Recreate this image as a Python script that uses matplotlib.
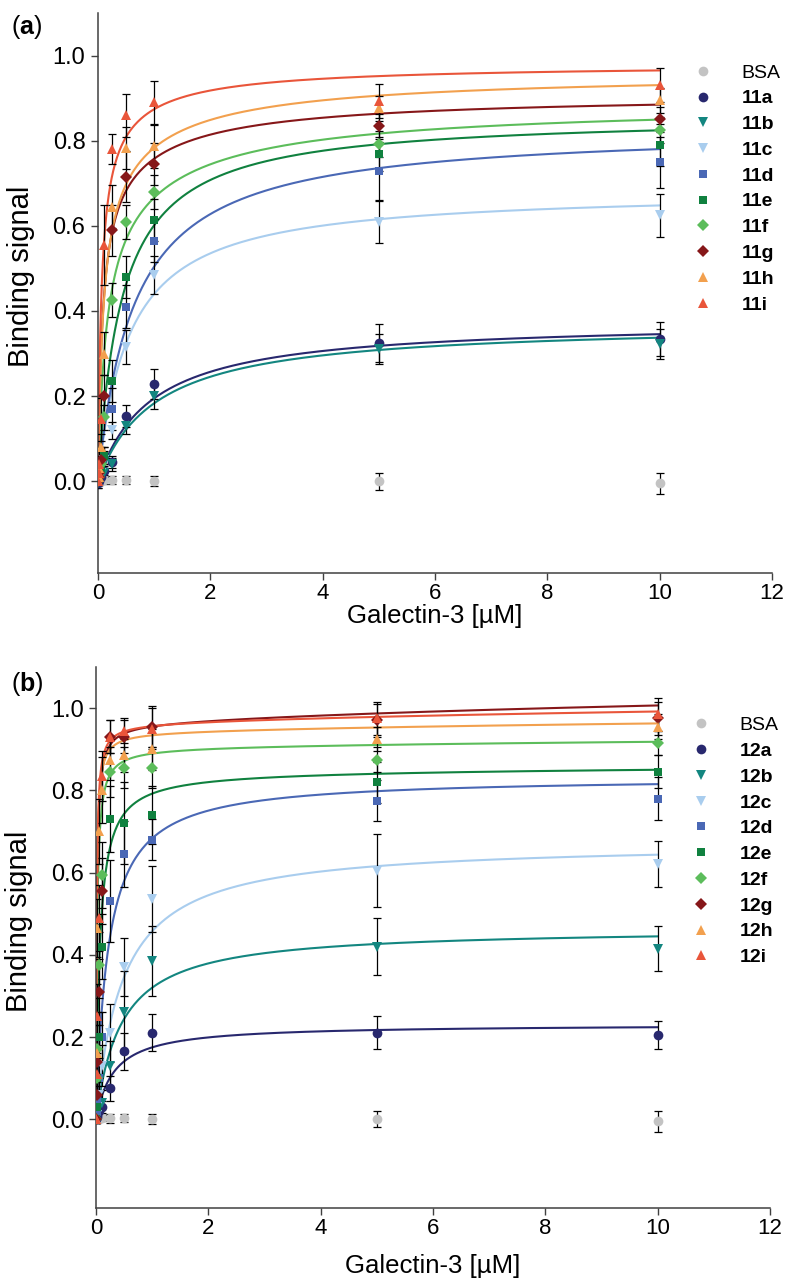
import numpy as np
import matplotlib
matplotlib.use('Agg')
import matplotlib.pyplot as plt
from matplotlib.lines import Line2D
from matplotlib import font_manager

plt.rcParams['font.family'] = ['Liberation Sans', 'DejaVu Sans']
plt.rcParams['mathtext.fontset'] = 'custom'
plt.rcParams['mathtext.rm'] = 'Liberation Sans'
plt.rcParams['mathtext.bf'] = 'Liberation Sans:bold'

installed = set(f.name for f in font_manager.fontManager.ttflist)
narrow = 'Liberation Sans Narrow' if 'Liberation Sans Narrow' in installed else 'Liberation Sans'

# galectin-3 concentrations [uM]
conc = [0, 0.01, 0.025, 0.05, 0.1, 0.25, 0.5, 1, 5, 10]

names_a = ['BSA', '11a', '11b', '11c', '11d', '11e', '11f', '11g', '11h', '11i']
names_b = ['BSA', '12a', '12b', '12c', '12d', '12e', '12f', '12g', '12h', '12i']

plot_color = ['#c3c3c3', '#28286e', '#138680', '#a9cdee', '#4a68b5',
              '#10813f', '#5cbd5b', '#861719', '#f2a04e', '#e9553a']
plot_marker = ['o', 'o', 'v', 'v', 's', 's', 'D', 'D', '^', '^']
msize = [7, 7, 7, 7, 6, 6, 6, 6, 7, 7]

# measured binding signal, panel (a)
bsa_a = [0, 0, 0, 0, 0.002, 0.003, 0.003, 0.0, 0.0, -0.005]
s11a = [-0.005, 0.0, 0.005, 0.01, 0.025, 0.045, 0.153, 0.228, 0.325, 0.335]
s11b = [-0.005, 0.0, 0.005, 0.01, 0.02, 0.04, 0.13, 0.20, 0.31, 0.322]
s11c = [0, 0.005, 0.01, 0.02, 0.05, 0.12, 0.315, 0.485, 0.61, 0.625]
s11d = [0, 0.005, 0.01, 0.03, 0.06, 0.17, 0.41, 0.565, 0.728, 0.75]
s11e = [0, 0.005, 0.015, 0.03, 0.06, 0.235, 0.48, 0.614, 0.77, 0.79]
s11f = [0, 0.01, 0.02, 0.04, 0.15, 0.426, 0.61, 0.68, 0.793, 0.825]
s11g = [0, 0.01, 0.02, 0.05, 0.2, 0.59, 0.715, 0.745, 0.834, 0.85]
s11h = [0, 0.01, 0.03, 0.08, 0.3, 0.645, 0.783, 0.787, 0.876, 0.895]
s11i = [0, 0.02, 0.04, 0.145, 0.555, 0.78, 0.86, 0.89, 0.893, 0.93]

# standard deviations, panel (a)
e_bsa_a = [0.005, 0.005, 0.005, 0.005, 0.008, 0.01, 0.01, 0.012, 0.02, 0.025]
e11a = [0.01, 0.01, 0.01, 0.01, 0.01, 0.015, 0.025, 0.035, 0.045, 0.04]
e11b = [0.01, 0.01, 0.01, 0.01, 0.01, 0.015, 0.02, 0.03, 0.035, 0.035]
e11c = [0.01, 0.01, 0.01, 0.01, 0.02, 0.02, 0.04, 0.045, 0.05, 0.05]
e11d = [0.01, 0.01, 0.01, 0.02, 0.02, 0.05, 0.05, 0.05, 0.07, 0.06]
e11e = [0.01, 0.01, 0.01, 0.02, 0.02, 0.05, 0.05, 0.05, 0.04, 0.05]
e11f = [0.01, 0.01, 0.02, 0.02, 0.03, 0.04, 0.04, 0.04, 0.03, 0.03]
e11g = [0.01, 0.01, 0.02, 0.03, 0.05, 0.06, 0.06, 0.05, 0.03, 0.03]
e11h = [0.01, 0.01, 0.02, 0.03, 0.05, 0.05, 0.05, 0.05, 0.03, 0.03]
e11i = [0.01, 0.02, 0.03, 0.05, 0.095, 0.035, 0.05, 0.05, 0.04, 0.04]

# measured binding signal, panel (b)
bsa_b = [0, 0, 0, 0, 0.003, 0.002, 0.003, 0.0, 0.0, -0.005]
s12a = [0, 0.005, 0.01, 0.02, 0.03, 0.075, 0.165, 0.21, 0.21, 0.205]
s12b = [0, 0.01, 0.02, 0.03, 0.04, 0.13, 0.26, 0.385, 0.42, 0.415]
s12c = [0, 0.01, 0.03, 0.06, 0.13, 0.21, 0.37, 0.535, 0.605, 0.62]
s12d = [0, 0.02, 0.05, 0.1, 0.2, 0.53, 0.645, 0.68, 0.775, 0.78]
s12e = [0, 0.03, 0.1, 0.2, 0.42, 0.73, 0.72, 0.74, 0.82, 0.845]
s12f = [0, 0.1, 0.17, 0.375, 0.595, 0.845, 0.855, 0.855, 0.875, 0.915]
s12g = [0, 0.06, 0.14, 0.31, 0.555, 0.93, 0.93, 0.955, 0.97, 0.975]
s12h = [0, 0.16, 0.465, 0.70, 0.80, 0.875, 0.885, 0.90, 0.925, 0.955]
s12i = [0, 0.11, 0.25, 0.49, 0.835, 0.93, 0.945, 0.95, 0.975, 0.985]

# standard deviations, panel (b)
e_bsa_b = [0.005, 0.005, 0.005, 0.005, 0.008, 0.01, 0.01, 0.012, 0.02, 0.025]
e12a = [0.01, 0.01, 0.01, 0.01, 0.015, 0.03, 0.045, 0.045, 0.04, 0.033]
e12b = [0.01, 0.01, 0.02, 0.02, 0.03, 0.06, 0.1, 0.085, 0.07, 0.055]
e12c = [0.01, 0.02, 0.03, 0.04, 0.05, 0.07, 0.07, 0.08, 0.088, 0.056]
e12d = [0.01, 0.02, 0.04, 0.05, 0.06, 0.1, 0.08, 0.05, 0.05, 0.052]
e12e = [0.01, 0.03, 0.05, 0.06, 0.08, 0.08, 0.1, 0.07, 0.05, 0.04]
e12f = [0.01, 0.04, 0.06, 0.08, 0.08, 0.06, 0.05, 0.05, 0.03, 0.03]
e12g = [0.01, 0.04, 0.06, 0.08, 0.08, 0.04, 0.04, 0.05, 0.04, 0.04]
e12h = [0.01, 0.05, 0.07, 0.08, 0.08, 0.05, 0.04, 0.05, 0.03, 0.03]
e12i = [0.01, 0.05, 0.08, 0.08, 0.06, 0.04, 0.03, 0.05, 0.04, 0.04]

# fitted two-site binding parameters: y = b1*x/(k1+x) + b2*x/(k2+x)
b1_a = [0, 0.378, 0.372, 0.684, 0.831, 0.86, 0.65, 0.73, 0.75, 0.85]
k1_a = [1, 0.941, 1.032, 0.555, 0.648, 0.43, 0.14, 0.08, 0.09, 0.06]
b2_a = [0, 0, 0, 0, 0, 0, 0.24, 0.18, 0.21, 0.13]
k2_a = [1, 1, 1, 1, 1, 1, 1.5, 1.2, 1.2, 0.8]

b1_b = [0, 0.231, 0.465, 0.674, 0.833, 0.846, 0.905, 0.963, 0.942, 0.963]
k1_b = [1, 0.321, 0.453, 0.474, 0.219, 0.07, 0.02, 0.015, 0.012, 0.0117]
b2_b = [0, 0, 0, 0, 0, 0.03, 0.045, 0.135, 0.066, 0.09]
k2_b = [20, 20, 20, 20, 20, 20, 20, 20, 20, 20]

data_a = [bsa_a, s11a, s11b, s11c, s11d, s11e, s11f, s11g, s11h, s11i]
err_a = [e_bsa_a, e11a, e11b, e11c, e11d, e11e, e11f, e11g, e11h, e11i]
data_b = [bsa_b, s12a, s12b, s12c, s12d, s12e, s12f, s12g, s12h, s12i]
err_b = [e_bsa_b, e12a, e12b, e12c, e12d, e12e, e12f, e12g, e12h, e12i]

fig = plt.figure(figsize=(7.85, 12.85), dpi=100)
ax_a = fig.add_axes([0.1248, 0.554, 0.8586, 0.4358])
ax_b = fig.add_axes([0.1223, 0.0599, 0.8586, 0.421])

xfit = np.concatenate([np.linspace(0, 0.3, 300), np.linspace(0.3, 10, 500)])


def draw_panel(ax, names, data, err, b1, k1, b2, k2, xpad):
	for i in range(len(names)):
		if i > 0:
			yfit = b1[i] * xfit / (k1[i] + xfit) + b2[i] * xfit / (k2[i] + xfit)
			ax.plot(xfit, yfit, color=plot_color[i], linewidth=1.5, zorder=2)
	for i in range(len(names)):
		ax.errorbar(conc, data[i], yerr=err[i], fmt='none', ecolor='black',
					elinewidth=0.9, capsize=3, capthick=0.9, zorder=3)
	for i in range(len(names)):
		ax.plot(conc, data[i], linestyle='none', marker=plot_marker[i],
				markersize=msize[i], color=plot_color[i], markeredgewidth=0, zorder=4)

	handles = [Line2D([], [], linestyle='none', marker=plot_marker[i], markersize=msize[i],
					  color=plot_color[i], markeredgewidth=0) for i in range(len(names))]
	leg = ax.legend(handles, names, loc='upper right', bbox_to_anchor=(1.03, 0.93),
					frameon=False, fontsize=14, labelspacing=0.42,
					handletextpad=1.0, borderaxespad=0.2)
	for t in leg.get_texts()[1:]:
		t.set_fontweight('bold')

	ax.set_xlim(0, 12)
	ax.set_ylim(-0.216, 1.1)
	ax.set_xticks(range(0, 13, 2))
	ax.set_yticks([0.0, 0.2, 0.4, 0.6, 0.8, 1.0])
	ax.set_yticklabels(['0.0', '0.2', '0.4', '0.6', '0.8', '1.0'])
	ax.spines['top'].set_visible(False)
	ax.spines['right'].set_visible(False)
	for s in ['left', 'bottom']:
		ax.spines[s].set_color('#404040')
		ax.spines[s].set_linewidth(1.1)
	ax.tick_params(direction='out', length=5, width=1.0, color='#404040', pad=4)
	ax.tick_params(axis='y', labelsize=17)
	ax.tick_params(axis='x', labelsize=16, pad=2)
	for lab in ax.get_xticklabels():
		lab.set_family(narrow)
	ax.set_xlabel('Galectin-3 [µM]', fontsize=18.5, labelpad=xpad)
	ax.set_ylabel('Binding signal', fontsize=21)
	ax.yaxis.set_label_coords(-0.094, 0.53)


draw_panel(ax_a, names_a, data_a, err_a, b1_a, k1_a, b2_a, k2_a, 0)
draw_panel(ax_b, names_b, data_b, err_b, b1_b, k1_b, b2_b, k2_b, 11)

fig.text(0.014, 0.979, r'($\mathbf{a}$)', fontsize=18, va='center')
fig.text(0.014, 0.468, r'($\mathbf{b}$)', fontsize=18, va='center')

fig.savefig('out.png', dpi=100)
